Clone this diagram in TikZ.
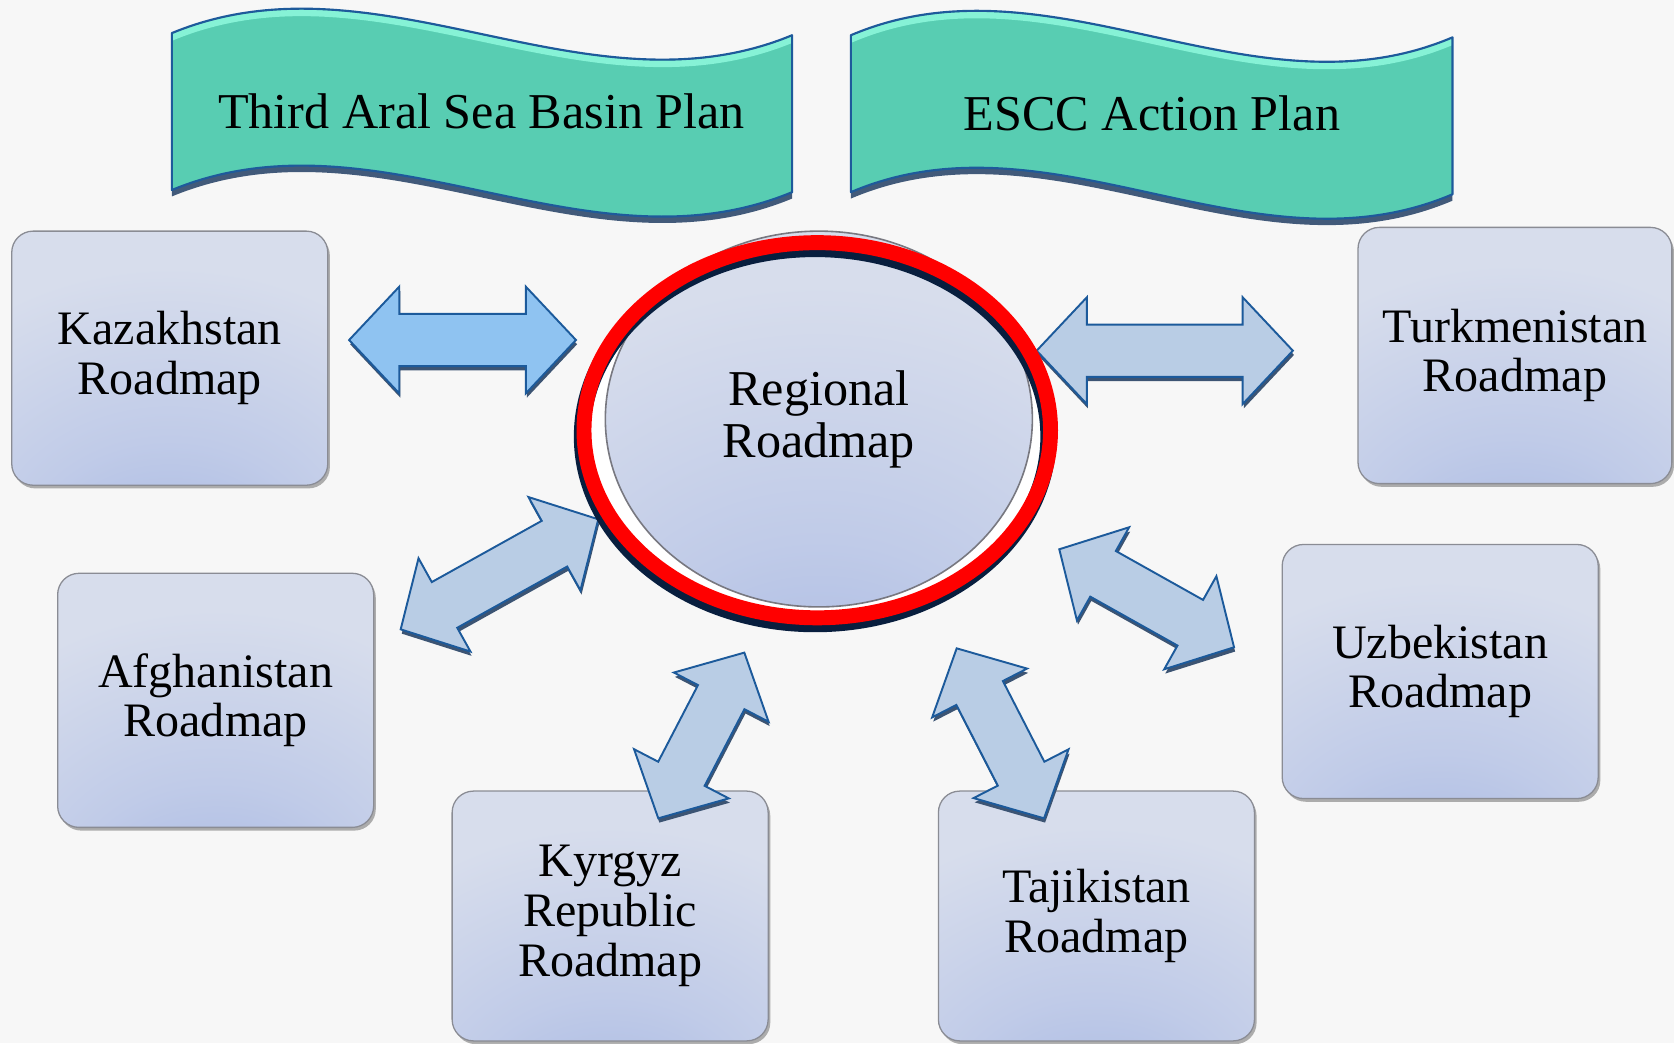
\documentclass[tikz,border=0pt]{standalone}
\usepackage{fontspec}
\setmainfont{Liberation Serif}
\usetikzlibrary{calc,shapes.geometric,shadows}
\definecolor{bgc}{RGB}{247,247,247}
\definecolor{shA}{RGB}{160,178,225}
\definecolor{shB}{RGB}{192,203,232}
\definecolor{shC}{RGB}{215,221,236}
\definecolor{boxline}{RGB}{138,140,148}
\definecolor{ellline}{RGB}{120,120,128}
\definecolor{bannerfill}{RGB}{88,205,178}
\definecolor{bannerline}{RGB}{30,90,155}
\definecolor{bannerhi}{RGB}{134,242,214}
\definecolor{bannersh}{RGB}{66,90,122}
\definecolor{arrline}{RGB}{28,90,155}
\definecolor{arrfillA}{RGB}{143,195,241}
\definecolor{arrfillB}{RGB}{185,205,229}
\definecolor{arrsh}{RGB}{60,84,115}
\definecolor{navyc}{RGB}{8,30,62}
\definecolor{ringred}{RGB}{255,0,0}
\pgfdeclareradialshading{boxsh}{\pgfpoint{0bp}{-50bp}}{color(0bp)=(shA); color(24bp)=(shB); color(48bp)=(shC); color(120bp)=(shC)}
\newcommand\blockarrow[3]{%
  \coordinate (#1h) at ($(#1)!47pt!(#2)$);
  \coordinate (#2h) at ($(#2)!47pt!(#1)$);
  \coordinate (#1o) at ($(#1h)!50pt!90:(#2)$);
  \coordinate (#1i) at ($(#1h)!24.5pt!90:(#2)$);
  \coordinate (#1j) at ($(#1h)!24.5pt!-90:(#2)$);
  \coordinate (#1p) at ($(#1h)!50pt!-90:(#2)$);
  \coordinate (#2o) at ($(#2h)!50pt!-90:(#1)$);
  \coordinate (#2i) at ($(#2h)!24.5pt!-90:(#1)$);
  \coordinate (#2j) at ($(#2h)!24.5pt!90:(#1)$);
  \coordinate (#2p) at ($(#2h)!50pt!90:(#1)$);
  \begin{scope}[transform canvas={shift={(1pt,-4pt)}}]
    \fill[arrsh] (#1)--(#1o)--(#1i)--(#2i)--(#2o)--(#2)--(#2p)--(#2j)--(#1j)--(#1p)--cycle;
  \end{scope}
  \filldraw[#3] (#1)--(#1o)--(#1i)--(#2i)--(#2o)--(#2)--(#2p)--(#2j)--(#1j)--(#1p)--cycle;
}
\begin{document}
\begin{tikzpicture}[x=1pt,y=1pt,
  rbox/.style={rectangle, rounded corners=20pt, draw=boxline, line width=1.2pt,
    shade, shading=boxsh, minimum width=296pt, minimum height=238pt, inner sep=0pt,
    align=center, font=\fontsize{45}{46.5}\selectfont,
    drop shadow={shadow xshift=2pt, shadow yshift=-3pt, opacity=0.3, fill=black}},
  titletext/.style={font=\fontsize{47}{50}\selectfont, inner sep=0pt},
  arrA/.style={fill=arrfillA, draw=arrline, line width=1.8pt, line join=miter},
  arrB/.style={fill=arrfillB, draw=arrline, line width=1.8pt, line join=miter}]
\fill[bgc] (0,0) rectangle (1568,977);
\useasboundingbox (0,0) rectangle (1568,977);

% banner 1
\fill[bannersh, yshift=-6pt] (161,946) .. controls (354.7,1026) and (548.3,864) .. (742,944) -- (742,797) .. controls (548.3,717) and (354.7,879) .. (161,799) -- cycle;
\fill[bannerfill] (161,946) .. controls (354.7,1026) and (548.3,864) .. (742,944) -- (742,797) .. controls (548.3,717) and (354.7,879) .. (161,799) -- cycle;
\begin{scope}
  \clip (161,946) .. controls (354.7,1026) and (548.3,864) .. (742,944) -- (742,797) .. controls (548.3,717) and (354.7,879) .. (161,799) -- cycle;
  \draw[bannerhi, line width=6pt] (161,942) .. controls (354.7,1022) and (548.3,860) .. (742,940);
\end{scope}
\draw[bannerline, line width=2pt, line join=round] (161,946) .. controls (354.7,1026) and (548.3,864) .. (742,944) -- (742,797) .. controls (548.3,717) and (354.7,879) .. (161,799) -- cycle;
\node[titletext, anchor=base] (t1) at (451,857) {Third Aral Sea Basin Plan};

% banner 2
\fill[bannersh, yshift=-6pt] (797,944) .. controls (984.8,1024) and (1172.7,862) .. (1360.5,942) -- (1360.5,795) .. controls (1172.7,715) and (984.8,877) .. (797,797) -- cycle;
\fill[bannerfill] (797,944) .. controls (984.8,1024) and (1172.7,862) .. (1360.5,942) -- (1360.5,795) .. controls (1172.7,715) and (984.8,877) .. (797,797) -- cycle;
\begin{scope}
  \clip (797,944) .. controls (984.8,1024) and (1172.7,862) .. (1360.5,942) -- (1360.5,795) .. controls (1172.7,715) and (984.8,877) .. (797,797) -- cycle;
  \draw[bannerhi, line width=6pt] (797,940) .. controls (984.8,1020) and (1172.7,858) .. (1360.5,938);
\end{scope}
\draw[bannerline, line width=2pt, line join=round] (797,944) .. controls (984.8,1024) and (1172.7,862) .. (1360.5,942) -- (1360.5,795) .. controls (1172.7,715) and (984.8,877) .. (797,797) -- cycle;
\node[titletext, anchor=base] (t2) at (1079,854.3) {ESCC Action Plan};

% country boxes
\node[rbox] (kaz) at (159,641.5) {Kazakhstan\\Roadmap};
\node[rbox] (afg) at (202,321) {Afghanistan\\Roadmap};
\node[rbox, minimum height=234pt] (kyr) at (571.5,119) {Kyrgyz\\Republic\\Roadmap};
\node[rbox, minimum height=234pt] (taj) at (1027,119) {Tajikistan\\Roadmap};
\node[rbox] (uzb) at (1349,348) {Uzbekistan\\Roadmap};
\node[rbox, minimum width=294pt, minimum height=240pt] (tur) at (1419,644) {Turkmenistan\\Roadmap};

% arrow end points
\coordinate (a1) at (327,658.5);   \coordinate (b1) at (539.5,658.5);
\coordinate (a2) at (971,648.5);   \coordinate (b2) at (1211,648.5);
\coordinate (a3) at (560.4,490.6); \coordinate (b3) at (375.3,387.5);
\coordinate (a4) at (697.2,365.7); \coordinate (b4) at (616.6,210.5);
\coordinate (a5) at (896.1,369.7); \coordinate (b5) at (977.9,210.5);
\coordinate (a6) at (992.2,462.5); \coordinate (b6) at (1155.9,370.7);
\blockarrow{a1}{b1}{arrA}
\blockarrow{a2}{b2}{arrB}
\blockarrow{a3}{b3}{arrB}
\blockarrow{a4}{b4}{arrB}
\blockarrow{a5}{b5}{arrB}
\blockarrow{a6}{b6}{arrB}

% central ellipse
\fill[white] (765.5,574) ellipse [x radius=218.5, y radius=175.7];
\node[ellipse, minimum width=400pt, minimum height=352pt, shade, shading=boxsh,
  draw=ellline, line width=1.5pt, inner sep=0pt, align=center,
  font=\fontsize{47}{48.6}\selectfont] (reg) at (767,584.5) {Regional\\Roadmap};
\draw[navyc, line width=15pt] (763.5,568) ellipse [x radius=218.5, y radius=175.7];
\draw[ringred, line width=14pt] (765.5,574) ellipse [x radius=218.5, y radius=175.7];
\end{tikzpicture}
\end{document}
